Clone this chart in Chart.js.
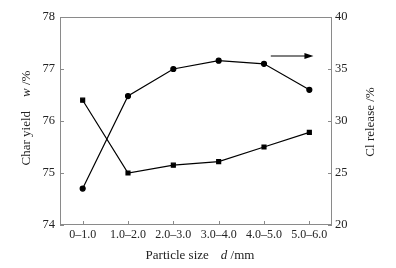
<!DOCTYPE html>
<html>
<head>
<meta charset="utf-8">
<script src="https://cdn.jsdelivr.net/npm/chart.js@4"></script>
<style>
    html, body { margin: 0; padding: 0; background: #ffffff; }
    #grafico { width: 396px; height: 268px; }
</style>
</head>
<body>
<div id="grafico"><canvas id="particula"></canvas></div>
<script>
// categorias do eixo x
const categorias = ['0–1.0', '1.0–2.0', '2.0–3.0', '3.0–4.0', '4.0–5.0', '5.0–6.0'];

// valores
const charYield = [76.4, 75.0, 75.15, 75.22, 75.5, 75.78];
const clRelease = [23.5, 32.4, 35.0, 35.8, 35.5, 33.0];

// ticks dos eixos
const ticksEsq = [74, 75, 76, 77, 78];
const ticksDir = [20, 25, 30, 35, 40];

// seta indicando o eixo da direita (em unidades de dados)
const setaX = [4.15, 5.09];
const setaY = 36.25;

const fonte = 'Liberation Serif';
const corTexto = '#222';
const corMoldura = '#8a8a8a';

// desenha moldura, ticks internos, seta e titulos dos eixos
const extras = {
    id: 'extras',
    afterDraw(chart) {
        const ctx = chart.ctx;
        const area = chart.chartArea;
        const x = chart.scales.x;
        const y = chart.scales.y;
        const y1 = chart.scales.y1;
        ctx.save();

        // moldura
        ctx.strokeStyle = corMoldura;
        ctx.lineWidth = 1;
        ctx.strokeRect(area.left + 0.5, area.top + 0.5, area.right - area.left - 1, area.bottom - area.top - 1);

        // ticks para dentro
        ctx.beginPath();
        ticksEsq.forEach(function (v) {
            const py = Math.round(y.getPixelForValue(v)) + 0.5;
            ctx.moveTo(area.left, py);
            ctx.lineTo(area.left + 4, py);
        });
        ticksDir.forEach(function (v) {
            const py = Math.round(y1.getPixelForValue(v)) + 0.5;
            ctx.moveTo(area.right, py);
            ctx.lineTo(area.right - 4, py);
        });
        for (let i = 0; i < categorias.length; i++) {
            const px = Math.round(x.getPixelForValue(i)) + 0.5;
            ctx.moveTo(px, area.bottom);
            ctx.lineTo(px, area.bottom - 4);
        }
        ctx.stroke();

        // seta
        const sx0 = x.getPixelForValue(setaX[0]);
        const sx1 = x.getPixelForValue(setaX[1]);
        const sy = y1.getPixelForValue(setaY);
        ctx.strokeStyle = '#000';
        ctx.fillStyle = '#000';
        ctx.lineWidth = 1.2;
        ctx.beginPath();
        ctx.moveTo(sx0, sy);
        ctx.lineTo(sx1 - 6, sy);
        ctx.stroke();
        ctx.beginPath();
        ctx.moveTo(sx1, sy);
        ctx.lineTo(sx1 - 9, sy - 3);
        ctx.lineTo(sx1 - 9, sy + 3);
        ctx.closePath();
        ctx.fill();

        // titulos (com partes em italico)
        ctx.fillStyle = corTexto;
        ctx.textBaseline = 'middle';
        function escreve(partes, cx, cy, rot) {
            ctx.save();
            ctx.translate(cx, cy);
            ctx.rotate(rot);
            let total = 0;
            partes.forEach(function (p) {
                ctx.font = (p.it ? 'italic ' : '') + '13px "' + fonte + '"';
                total += ctx.measureText(p.t).width + (p.gap || 0);
            });
            let pos = -total / 2;
            ctx.textAlign = 'left';
            partes.forEach(function (p) {
                ctx.font = (p.it ? 'italic ' : '') + '13px "' + fonte + '"';
                ctx.fillText(p.t, pos, 0);
                pos += ctx.measureText(p.t).width + (p.gap || 0);
            });
            ctx.restore();
        }
        escreve([{ t: 'Char yield', gap: 14 }, { t: 'w', it: true }, { t: ' /%' }], 27, 118, -Math.PI / 2);
        escreve([{ t: 'Cl release /%' }], 371, 122, -Math.PI / 2);
        escreve([{ t: 'Particle size', gap: 12 }, { t: 'd', it: true }, { t: ' /mm' }], 200, 256, 0);

        ctx.restore();
    }
};

function plotarGrafico() {
    const dados = {
        labels: categorias,
        datasets: [{
            label: 'Char yield',
            data: charYield,
            yAxisID: 'y',
            borderColor: '#000',
            backgroundColor: '#000',
            borderWidth: 1.2,
            pointStyle: 'rect',
            pointRadius: 2.8,
            tension: 0
        },
        {
            label: 'Cl release',
            data: clRelease,
            yAxisID: 'y1',
            borderColor: '#000',
            backgroundColor: '#000',
            borderWidth: 1.2,
            pointStyle: 'circle',
            pointRadius: 2.5,
            tension: 0
        }]
    };

    const config = {
        type: 'line',
        data: dados,
        options: {
            responsive: true,
            maintainAspectRatio: false,
            animation: false,
            layout: { padding: { top: 17, left: 0, right: 0, bottom: 0 } },
            plugins: {
                legend: { display: false },
                tooltip: { enabled: false }
            },
            scales: {
                x: {
                    offset: true,
                    grid: { display: false, drawTicks: false },
                    border: { display: false },
                    ticks: {
                        color: corTexto,
                        font: { family: fonte, size: 12 },
                        padding: 3,
                        maxRotation: 0,
                        autoSkip: false
                    },
                    afterFit(scale) { scale.height = 43; }
                },
                y: {
                    position: 'left',
                    min: 74,
                    max: 78,
                    grid: { display: false, drawTicks: false },
                    border: { display: false },
                    ticks: {
                        stepSize: 1,
                        color: corTexto,
                        font: { family: fonte, size: 12.5 },
                        padding: 5
                    },
                    afterFit(scale) { scale.width = 60; }
                },
                y1: {
                    position: 'right',
                    min: 20,
                    max: 40,
                    grid: { display: false, drawTicks: false },
                    border: { display: false },
                    ticks: {
                        stepSize: 5,
                        color: corTexto,
                        font: { family: fonte, size: 12.5 },
                        padding: 3
                    },
                    afterFit(scale) { scale.width = 64; }
                }
            }
        },
        plugins: [extras]
    };

    const grafico = new Chart(document.getElementById('particula'), config);
}

plotarGrafico();
</script>
</body>
</html>
